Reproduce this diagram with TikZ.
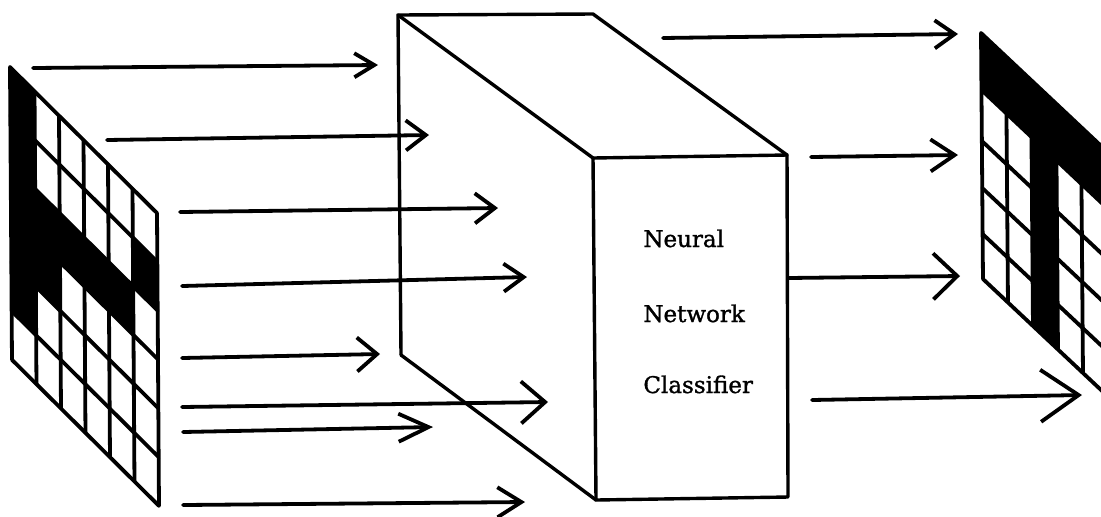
\documentclass[tikz,border=0pt]{standalone}
\usepackage{fontspec}
\setmainfont{DejaVu Serif}
\newfontfamily\lblfont[FakeBold=1.3]{DejaVu Serif}
\usetikzlibrary{arrows.meta}
\tikzset{
  arr/.style 2 args={line width=1.9pt, line cap=round, -{Straight Barb[length=#1,width=#2]}},
  boxedge/.style={line width=1.7pt, line cap=round, line join=round},
  gridline/.style={line width=1.9pt, line cap=round},
  lbl/.style={anchor=base west, inner sep=0pt, font=\lblfont\fontsize{11.5}{14}\selectfont},
}
\begin{document}
\begin{tikzpicture}[x=0.5pt,y=-0.5pt]
\useasboundingbox (0,0) rectangle (1101,516);
\fill[white] (0,0) rectangle (1101,516);
\clip (0,0) rectangle (1101,516);

% ---------- left grid (input pattern) ----------
\begin{scope}[shift={(10,67)}, x={(12.25pt,-12.17pt)}, y={(0.165pt,-24.4pt)}]
  \foreach \c/\r in {0/0,0/1,0/2,0/3,0/4,1/2,1/3,2/2,3/2,4/2,5/1}
    \fill[black] (\c,\r) -- (\c+1,\r) -- (\c+1,\r+1) -- (\c,\r+1) -- cycle;
  \foreach \c in {0,...,6} \draw[gridline] (\c,0) -- (\c,6);
  \foreach \r in {0,...,6} \draw[gridline] (0,\r) -- (6,\r);
\end{scope}

% ---------- right grid (output pattern) ----------
\begin{scope}[shift={(981,33)}, x={(12.5pt,-11.75pt)}, y={(0.004pt,-0.5pt)}]
  \fill[black] (0,0) -- (5,0) -- (5,57) -- (0,57) -- cycle;
  \fill[black] (2,0) -- (3,0) -- (3,246) -- (2,246) -- cycle;
  \foreach \c in {0,...,5} \draw[gridline] (\c,0) -- (\c,246);
  \foreach \r in {0,57,108,155,201,246} \draw[gridline] (0,\r) -- (5,\r);
\end{scope}

% ---------- classifier box ----------
\coordinate (btl) at (398,15);
\coordinate (btr) at (593,14);
\coordinate (bbl) at (401,355);
\coordinate (ftl) at (593,158);
\coordinate (ftr) at (787,155);
\coordinate (fbl) at (596,500);
\coordinate (fbr) at (788,497);
\draw[boxedge] (bbl) -- (btl) -- (btr) -- (ftr);
\draw[boxedge] (btl) -- (ftl);
\draw[boxedge] (bbl) -- (fbl);
\draw[boxedge] (ftl) -- (ftr) -- (fbr) -- (fbl) -- cycle;

\node[lbl] (t1) at (643,247) {Neural};
\node[lbl] (t2) at (643,322) {Network};
\node[lbl] (t3) at (643,393) {Classifier};

% ---------- arrows ----------
\coordinate (s1) at (33,68);   \coordinate (e1) at (378,65);
\coordinate (s2) at (107,140); \coordinate (e2) at (429,135);
\coordinate (s3) at (180,212); \coordinate (e3) at (498,208);
\coordinate (s4) at (182,286); \coordinate (e4) at (527,277);
\coordinate (s5) at (182,358); \coordinate (e5) at (380,354);
\coordinate (s6) at (182,407); \coordinate (e6) at (548,402);
\coordinate (s7) at (183,432); \coordinate (e7) at (433,427);
\coordinate (s8) at (183,505); \coordinate (e8) at (525,502);
\coordinate (s9) at (663,38);  \coordinate (e9) at (958,34);
\coordinate (s10) at (811,157); \coordinate (e10) at (958,155);
\coordinate (s11) at (788,278); \coordinate (e11) at (960,276);
\coordinate (s12) at (812,400); \coordinate (e12) at (1082,395);

\draw[arr={10pt}{12pt}] (s1) -- (e1);
\draw[arr={10pt}{15pt}] (s2) -- (e2);
\draw[arr={10pt}{15pt}] (s3) -- (e3);
\draw[arr={10pt}{14pt}] (s4) -- (e4);
\draw[arr={10pt}{17pt}] (s5) -- (e5);
\draw[arr={12pt}{21pt}] (s6) -- (e6);
\draw[arr={15pt}{14pt}] (s7) -- (e7);
\draw[arr={12pt}{15pt}] (s8) -- (e8);
\draw[arr={10pt}{14pt}] (s9) -- (e9);
\draw[arr={12pt}{16pt}] (s10) -- (e10);
\draw[arr={12pt}{23pt}] (s11) -- (e11);
\draw[arr={19pt}{26pt}] (s12) -- (e12);
\end{tikzpicture}
\end{document}
